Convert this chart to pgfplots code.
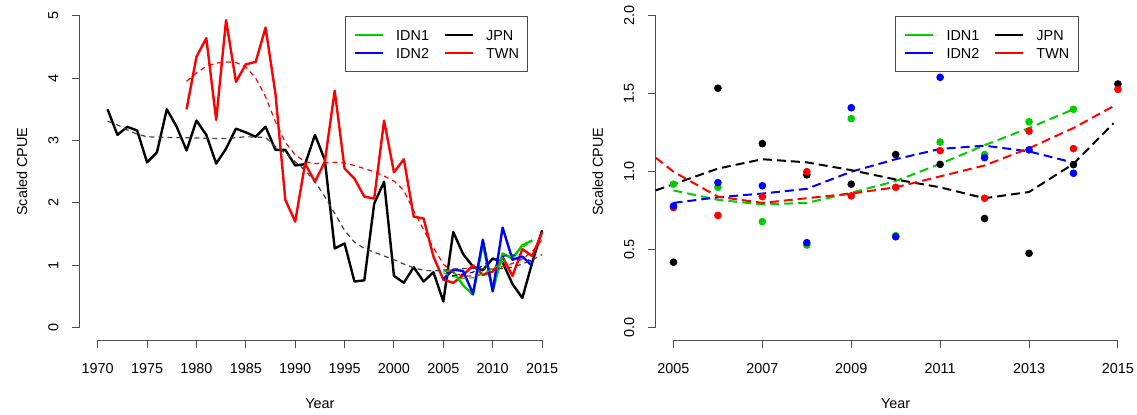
\documentclass[border=0pt]{standalone}
\usepackage{fontspec}
\setmainfont{Liberation Sans}
\usepackage{pgfplots}
\pgfplotsset{compat=1.18}
\definecolor{cG}{HTML}{00CD00}
\definecolor{cB}{HTML}{0000FF}
\definecolor{cR}{HTML}{FF0000}
\definecolor{cK}{HTML}{000000}
\definecolor{axc}{HTML}{4D4D4D}

\pgfplotsset{
  rstyle/.style={
    scale only axis, width=240pt, height=168.5pt, anchor=south west,
    font=\fontsize{7.2}{8.6}\selectfont,
    /pgf/number format/assume math mode=true,
    /pgf/number format/1000 sep={},
    axis line style={draw=none}, clip=false,
    tick align=outside, xtick pos=bottom, ytick pos=left,
    major tick length=4pt, tick style={axc, line width=0.5pt},
    xticklabel style={anchor=center, yshift=-10.15pt},
    yticklabel style={xshift=-9.3pt, rotate=90, anchor=center},
    xlabel={Year}, ylabel={Scaled CPUE},
    xlabel style={at={(axis description cs:0.5,0)}, anchor=center, yshift=-31.5pt},
    ylabel style={at={(axis description cs:0,0.5)}, anchor=center, yshift=29pt},
    legend columns=2, legend cell align=left,
    legend image code/.code={\draw[#1] (0pt,0pt) -- (14pt,0pt);},
    legend style={draw=axc, line width=0.5pt, fill=white, anchor=north east,
      inner xsep=4.4pt, inner ysep=6.6pt, row sep=3.8pt,
      nodes={inner sep=0pt, text height=5.2pt, text depth=0pt},
      /tikz/every odd column/.append style={column sep=6.35pt},
      /tikz/every even column/.append style={column sep=7.4pt}},
  },
  solidl/.style={line width=1.2pt, line join=round},
  smoothl/.style={line width=0.6pt, dash pattern=on 2.5pt off 2pt},
  smoothr/.style={line width=1pt, dash pattern=on 4.5pt off 2.5pt},
  dotm/.style={only marks, mark=*, mark size=1.7pt},
}

\begin{document}
\begin{tikzpicture}
\useasboundingbox (0,0) rectangle (568.5pt,207pt);

% ---------------- left panel: full series ----------------
\begin{axis}[rstyle, at={(39.95pt,36.9pt)},
  xmin=1968.2, xmax=2016.8, ymin=-0.2, ymax=5.2,
  xtick={1970,1975,...,2015}, ytick={0,1,2,3,4,5},
  legend style={at={(axis description cs:0.934,0.962)}}]
\draw[axc, line width=0.5pt] (axis cs:1970,-0.2) -- (axis cs:2015,-0.2);
\draw[axc, line width=0.5pt] (axis cs:1968.2,0) -- (axis cs:1968.2,5);

\addlegendimage{cG, line width=0.8pt}\addlegendentry{IDN1}
\addlegendimage{cK, line width=0.8pt}\addlegendentry{JPN}
\addlegendimage{cB, line width=0.8pt}\addlegendentry{IDN2}
\addlegendimage{cR, line width=0.8pt}\addlegendentry{TWN}

% JPN
\addplot[cK, solidl, forget plot] coordinates {
(1971,3.50)(1972,3.09)(1973,3.22)(1974,3.16)(1975,2.65)(1976,2.81)(1977,3.50)
(1978,3.22)(1979,2.84)(1980,3.32)(1981,3.09)(1982,2.63)(1983,2.87)(1984,3.19)
(1985,3.13)(1986,3.06)(1987,3.22)(1988,2.85)(1989,2.85)(1990,2.60)(1991,2.62)
(1992,3.09)(1993,2.69)(1994,1.27)(1995,1.35)(1996,0.74)(1997,0.76)(1998,1.99)
(1999,2.34)(2000,0.83)(2001,0.72)(2002,0.97)(2003,0.74)(2004,0.89)(2005,0.42)
(2006,1.535)(2007,1.18)(2008,0.98)(2009,0.92)(2010,1.11)(2011,1.047)(2012,0.70)
(2013,0.477)(2014,1.045)(2015,1.562)};
% TWN
\addplot[cR, solidl, forget plot] coordinates {
(1979,3.50)(1980,4.34)(1981,4.64)(1982,3.33)(1983,4.93)(1984,3.94)(1985,4.22)
(1986,4.26)(1987,4.81)(1988,3.75)(1989,2.05)(1990,1.70)(1991,2.63)(1992,2.34)
(1993,2.66)(1994,3.80)(1995,2.55)(1996,2.39)(1997,2.10)(1998,2.07)(1999,3.32)
(2000,2.49)(2001,2.70)(2002,1.78)(2003,1.75)(2004,1.14)(2005,0.77)(2006,0.72)
(2007,0.84)(2008,1.00)(2009,0.845)(2010,0.90)(2011,1.135)(2012,0.83)(2013,1.26)
(2014,1.148)(2015,1.528)};
% IDN1
\addplot[cG, solidl, forget plot] coordinates {
(2005,0.92)(2006,0.90)(2007,0.68)(2008,0.53)(2009,1.34)(2010,0.59)(2011,1.19)
(2012,1.11)(2013,1.32)(2014,1.40)};
% IDN2
\addplot[cB, solidl, forget plot] coordinates {
(2005,0.78)(2006,0.93)(2007,0.91)(2008,0.545)(2009,1.41)(2010,0.583)(2011,1.605)
(2012,1.09)(2013,1.14)(2014,0.99)};

% smoothers
\addplot[cK!75, smoothl, forget plot] coordinates {
(1971,3.31)(1972,3.25)(1973,3.17)(1974,3.10)(1975,3.06)(1977,3.05)(1980,3.04)
(1983,3.03)(1985,3.06)(1987,3.05)(1988,2.90)(1989,2.80)(1990,2.66)(1991,2.52)
(1992,2.34)(1993,2.10)(1994,1.83)(1995,1.56)(1996,1.37)(1997,1.27)(1998,1.21)
(1999,1.15)(2000,1.09)(2001,1.02)(2002,0.96)(2003,0.92)(2004,0.91)(2005,0.92)
(2006,0.94)(2007,0.95)(2008,0.95)(2009,0.94)(2010,0.94)(2011,0.95)(2012,0.97)
(2013,1.02)(2014,1.09)(2015,1.17)};
\addplot[cR, smoothl, forget plot] coordinates {
(1979,3.95)(1980,4.08)(1981,4.19)(1982,4.24)(1983,4.26)(1984,4.25)(1985,4.18)
(1986,4.00)(1987,3.70)(1988,3.30)(1989,2.97)(1990,2.77)(1991,2.66)(1992,2.63)
(1993,2.64)(1994,2.65)(1995,2.64)(1996,2.60)(1997,2.55)(1998,2.50)(1999,2.43)
(2000,2.35)(2001,2.20)(2002,1.87)(2003,1.57)(2004,1.28)(2005,1.02)(2006,0.88)
(2007,0.83)(2008,0.83)(2009,0.86)(2010,0.92)(2011,0.98)(2012,1.03)(2013,1.10)
(2014,1.22)(2015,1.41)};
\addplot[cG, smoothl, forget plot] coordinates {
(2005,0.88)(2006,0.82)(2007,0.79)(2008,0.80)(2009,0.865)(2010,0.94)(2011,1.05)
(2012,1.17)(2013,1.28)(2014,1.40)};
\addplot[cB, smoothl, forget plot] coordinates {
(2005,0.80)(2006,0.836)(2007,0.86)(2008,0.89)(2009,1.00)(2010,1.08)(2011,1.146)
(2012,1.167)(2013,1.13)(2014,1.058)};
\end{axis}

% ---------------- right panel: 2005-2015 ----------------
\begin{axis}[rstyle, at={(327.85pt,36.9pt)},
  xmin=2004.6, xmax=2015.4, ymin=-0.08, ymax=2.08,
  xtick={2005,2007,...,2015}, ytick={0,0.5,...,2.0},
  yticklabel style={/pgf/number format/.cd, fixed, fixed zerofill, precision=1},
  legend style={at={(axis description cs:0.881,0.962)}}]
\draw[axc, line width=0.5pt] (axis cs:2005,-0.08) -- (axis cs:2015,-0.08);
\draw[axc, line width=0.5pt] (axis cs:2004.6,0) -- (axis cs:2004.6,2);

\addlegendimage{cG, line width=0.8pt}\addlegendentry{IDN1}
\addlegendimage{cK, line width=0.8pt}\addlegendentry{JPN}
\addlegendimage{cB, line width=0.8pt}\addlegendentry{IDN2}
\addlegendimage{cR, line width=0.8pt}\addlegendentry{TWN}

\addplot[cK, dotm, forget plot] coordinates {
(2005,0.42)(2006,1.535)(2007,1.18)(2008,0.98)(2009,0.92)(2010,1.11)(2011,1.047)
(2012,0.70)(2013,0.477)(2014,1.045)(2015,1.562)};
\addplot[cR, dotm, forget plot] coordinates {
(2005,0.77)(2006,0.72)(2007,0.84)(2008,1.00)(2009,0.845)(2010,0.90)(2011,1.135)
(2012,0.83)(2013,1.26)(2014,1.148)(2015,1.528)};
\addplot[cG, dotm, forget plot] coordinates {
(2005,0.92)(2006,0.90)(2007,0.68)(2008,0.53)(2009,1.34)(2010,0.59)(2011,1.19)
(2012,1.11)(2013,1.32)(2014,1.40)};
\addplot[cB, dotm, forget plot] coordinates {
(2005,0.78)(2006,0.93)(2007,0.91)(2008,0.545)(2009,1.41)(2010,0.583)(2011,1.605)
(2012,1.09)(2013,1.14)(2014,0.99)};

\addplot[cG, smoothr, forget plot] coordinates {
(2005,0.88)(2006,0.82)(2007,0.79)(2008,0.80)(2009,0.865)(2010,0.94)(2011,1.05)
(2012,1.17)(2013,1.28)(2014,1.40)};
\addplot[cB, smoothr, forget plot] coordinates {
(2005,0.80)(2006,0.836)(2007,0.86)(2008,0.89)(2009,1.00)(2010,1.08)(2011,1.146)
(2012,1.167)(2013,1.13)(2014,1.058)};
\addplot[cK, smoothr, forget plot] coordinates {
(2004.6,0.88)(2005,0.92)(2006,1.02)(2007,1.08)(2008,1.06)(2009,1.01)(2010,0.95)
(2011,0.90)(2012,0.83)(2013,0.87)(2014,1.05)(2014.9,1.31)};
\addplot[cR, smoothr, forget plot] coordinates {
(2004.6,1.09)(2005,1.00)(2006,0.84)(2007,0.80)(2008,0.83)(2009,0.86)(2010,0.90)
(2011,0.97)(2012,1.04)(2013,1.15)(2014,1.28)(2014.9,1.42)};
\end{axis}
\end{tikzpicture}
\end{document}
